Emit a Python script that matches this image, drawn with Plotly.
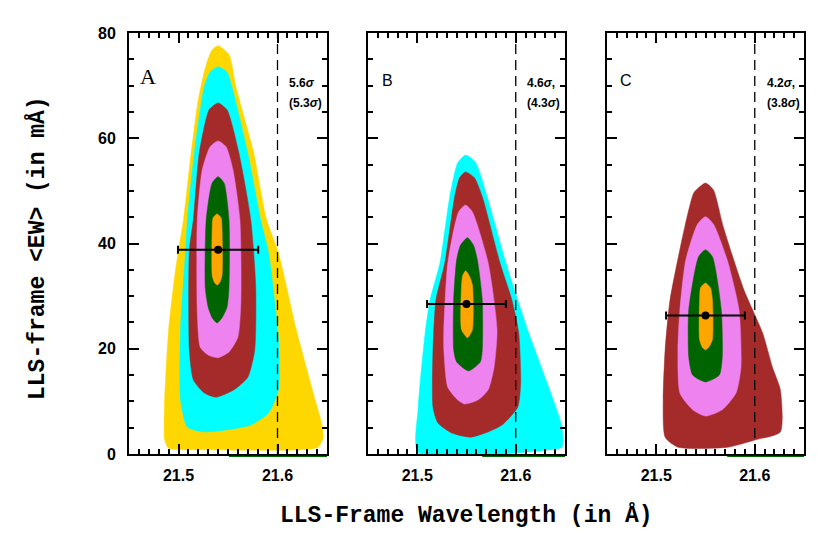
import plotly.graph_objects as go

# ---------------- data: contour regions (x = wavelength [Å], y = <EW> [mÅ]) ----------------
# Panel A
A_gold_x = [21.540, 21.551, 21.558, 21.567, 21.576, 21.589, 21.601, 21.619, 21.638, 21.645, 21.646, 21.641, 21.624,
            21.522, 21.490, 21.486, 21.486, 21.490, 21.497, 21.505, 21.512, 21.520, 21.528, 21.534]
A_gold_y = [77.6, 75.9, 69.8, 63.5, 57.2, 44.5, 38.2, 23.6, 10.3, 5.5, 3.0, 1.3, 0.8,
            0.8, 1.1, 2.7, 10.3, 23.6, 35.0, 44.5, 55.9, 67.3, 74.0, 76.8]
A_cyan_x = [21.540, 21.549, 21.554, 21.570, 21.583, 21.591, 21.597, 21.601, 21.601, 21.591, 21.573, 21.550,
            21.526, 21.509, 21.502, 21.502, 21.507, 21.509, 21.516, 21.526, 21.532]
A_cyan_y = [73.6, 72.6, 69.8, 57.2, 44.5, 38.2, 29.3, 21.7, 12.2, 7.8, 5.5, 4.6,
            4.2, 5.1, 10.3, 23.6, 38.2, 44.5, 57.2, 69.8, 72.6]
A_brown_x = [21.540, 21.549, 21.561, 21.573, 21.578, 21.577, 21.570, 21.556, 21.538, 21.526, 21.515, 21.511,
             21.511, 21.515, 21.521, 21.531]
A_brown_y = [66.7, 65.4, 57.2, 44.5, 31.7, 19.8, 14.6, 12.2, 10.8, 11.6, 14.1, 19.8,
             38.8, 44.5, 57.2, 65.4]
A_violet_x = [21.540, 21.548, 21.555, 21.562, 21.563, 21.560, 21.551, 21.540, 21.530, 21.522, 21.519, 21.519,
              21.524, 21.532]
A_violet_y = [59.5, 58.4, 54.0, 44.5, 28.7, 22.2, 19.4, 18.3, 18.8, 20.3, 26.8, 44.5, 54.0, 58.4]
A_green_x = [21.540, 21.546, 21.551, 21.551, 21.549, 21.544, 21.539, 21.534, 21.530, 21.527, 21.528, 21.534]
A_green_y = [52.7, 51.5, 44.5, 31.7, 27.9, 25.9, 24.9, 25.9, 27.9, 31.7, 44.5, 51.5]
A_orange_x = [21.539, 21.543, 21.544, 21.544, 21.542, 21.539, 21.536, 21.534, 21.534, 21.535]
A_orange_y = [45.6, 44.9, 42.6, 34.0, 32.7, 32.1, 32.7, 34.0, 42.6, 44.9]

# Panel B
B_cyan_x = [21.549, 21.559, 21.571, 21.590, 21.602, 21.612, 21.626, 21.647, 21.647, 21.639,
            21.501, 21.501, 21.508, 21.513, 21.523, 21.533, 21.541]
B_cyan_y = [56.8, 55.5, 48.9, 36.3, 29.3, 23.6, 16.5, 5.1, 1.3, 0.9,
            0.3, 8.9, 23.0, 29.3, 36.3, 48.9, 55.3]
B_brown_x = [21.549, 21.558, 21.566, 21.584, 21.596, 21.603, 21.605, 21.602, 21.586, 21.572, 21.554, 21.535,
             21.521, 21.516, 21.516, 21.519, 21.528, 21.538, 21.543]
B_brown_y = [53.6, 52.5, 48.9, 36.3, 29.3, 23.0, 13.5, 8.9, 5.5, 4.2, 3.2, 4.0,
             5.9, 8.9, 19.8, 29.3, 36.3, 48.9, 52.5]
B_violet_x = [21.549, 21.556, 21.572, 21.581, 21.578, 21.572, 21.562, 21.548, 21.541, 21.531, 21.527, 21.527,
              21.531, 21.542]
B_violet_y = [47.3, 46.0, 36.3, 23.6, 16.5, 12.2, 10.3, 9.5, 10.3, 12.7, 19.8, 23.6, 36.3, 46.0]
B_green_x = [21.551, 21.557, 21.561, 21.566, 21.566, 21.564, 21.552, 21.540, 21.537, 21.537, 21.540, 21.544]
B_green_y = [41.1, 39.7, 36.9, 29.3, 19.8, 17.5, 15.8, 17.5, 19.8, 29.3, 36.9, 39.7]
B_orange_x = [21.549, 21.553, 21.556, 21.556, 21.551, 21.545, 21.545, 21.546]
B_orange_y = [34.8, 33.8, 32.1, 23.6, 22.1, 23.6, 32.1, 33.8]

# Panel C
C_brown_x = [21.550, 21.558, 21.568, 21.589, 21.608, 21.618, 21.626, 21.626, 21.601, 21.573, 21.522, 21.509,
             21.507, 21.509, 21.514, 21.529, 21.538, 21.543]
C_brown_y = [51.5, 50.2, 43.2, 31.2, 23.0, 16.5, 12.2, 4.2, 2.7, 1.3, 1.3, 3.2,
             10.3, 19.8, 29.3, 43.2, 49.6, 50.6]
C_violet_x = [21.550, 21.558, 21.572, 21.584, 21.586, 21.581, 21.567, 21.550, 21.537, 21.524, 21.522, 21.524,
              21.530, 21.542]
C_violet_y = [45.1, 43.7, 36.9, 27.4, 16.5, 11.6, 8.4, 7.2, 8.4, 11.6, 19.8, 27.4, 36.9, 43.7]
C_green_x = [21.550, 21.557, 21.566, 21.567, 21.564, 21.550, 21.537, 21.533, 21.533, 21.543]
C_green_y = [38.8, 37.5, 27.4, 18.4, 15.0, 13.7, 15.0, 18.4, 27.4, 37.5]
C_orange_x = [21.550, 21.555, 21.557, 21.557, 21.553, 21.550, 21.547, 21.544, 21.544, 21.545]
C_orange_y = [32.5, 31.6, 29.3, 21.7, 20.2, 19.8, 20.2, 21.7, 29.3, 31.6]

# best-fit points with wavelength error bars
est_x = [21.540, 21.550, 21.550]
est_y = [38.8, 28.5, 26.3]
est_err = [0.0405, 0.040, 0.040]

# start of the thin dark-green segment under the bottom axis (to the right edge)
base_seg_start = [21.551, 21.566, 21.572]

panel_labels = ["A", "B", "C"]
sig_line1 = ["5.6<i>σ</i>", "4.6<i>σ</i>,", "4.2<i>σ</i>,"]
sig_line2 = ["(5.3<i>σ</i>)", "(4.3<i>σ</i>)", "(3.8<i>σ</i>)"]
threshold_wave = 21.6
x_range = [21.45, 21.65]

COL = {"gold": "#FFD700", "cyan": "#00FFFF", "brown": "#A52A2A",
       "violet": "#EE82EE", "green": "#006400", "orange": "#FFA500"}

panels = [
    [("gold", A_gold_x, A_gold_y), ("cyan", A_cyan_x, A_cyan_y), ("brown", A_brown_x, A_brown_y),
     ("violet", A_violet_x, A_violet_y), ("green", A_green_x, A_green_y), ("orange", A_orange_x, A_orange_y)],
    [("cyan", B_cyan_x, B_cyan_y), ("brown", B_brown_x, B_brown_y), ("violet", B_violet_x, B_violet_y),
     ("green", B_green_x, B_green_y), ("orange", B_orange_x, B_orange_y)],
    [("brown", C_brown_x, C_brown_y), ("violet", C_violet_x, C_violet_y),
     ("green", C_green_x, C_green_y), ("orange", C_orange_x, C_orange_y)],
]

W, H = 831, 545
OFF = 8  # page body margin in the browser
def px(x):
    return (x - OFF) / W
def py(y):
    return 1 - (y - OFF) / H

x_dom_px = [(129, 327), (368, 565), (607, 804)]
y_top_px, y_bot_px = 33, 454

fig = go.Figure()
for i, regions in enumerate(panels):
    xa = "x" if i == 0 else f"x{i+1}"
    ya = "y" if i == 0 else f"y{i+1}"
    for cname, xs, ys in regions:
        fig.add_trace(go.Scatter(x=xs + [xs[0]], y=ys + [ys[0]], mode="lines", fill="toself",
                                 fillcolor=COL[cname],
                                 line=dict(color=COL[cname], width=0.5, shape="spline", smoothing=0.6),
                                 xaxis=xa, yaxis=ya, hoverinfo="skip", showlegend=False))
    fig.add_trace(go.Scatter(x=[est_x[i]], y=[est_y[i]], mode="markers",
                             marker=dict(symbol="circle", size=8, color="black"),
                             error_x=dict(type="data", array=[est_err[i]], color="black", thickness=2, width=4),
                             xaxis=xa, yaxis=ya, showlegend=False, hoverinfo="skip"))
    fig.add_shape(type="line", xref=xa, yref=f"{ya} domain", x0=threshold_wave, x1=threshold_wave, y0=0, y1=1,
                  line=dict(color="black", width=1.3, dash="10px,6px"))
    fig.add_shape(type="line", xref=xa, yref=f"{ya} domain", x0=base_seg_start[i], x1=x_range[1],
                  y0=-0.0055, y1=-0.0055, line=dict(color="#006400", width=1.2))

tickfont = dict(family="Liberation Sans, Arial", size=16, color="black", weight="bold")
common_x = dict(range=x_range, tickmode="linear", tick0=21.5, dtick=0.1, tickformat=".1f",
                ticks="inside", ticklen=10, tickwidth=2, tickcolor="black",
                minor=dict(ticks="inside", ticklen=5, tickwidth=1.5, tickcolor="black", dtick=0.01, tick0=21.5),
                showline=True, linewidth=2, linecolor="black", mirror="allticks", showgrid=False, zeroline=False,
                tickfont=tickfont, ticklabelstandoff=6, automargin=False)
common_y = dict(range=[0, 80], tickmode="linear", tick0=0, dtick=20,
                ticks="inside", ticklen=10, tickwidth=2, tickcolor="black",
                minor=dict(ticks="inside", ticklen=5, tickwidth=1.5, tickcolor="black", dtick=5, tick0=0),
                showline=True, linewidth=2, linecolor="black", mirror="allticks", showgrid=False, zeroline=False,
                tickfont=tickfont, domain=[py(y_bot_px), py(y_top_px)], automargin=False)

layout = dict(width=W, height=H, margin=dict(l=0, r=0, t=0, b=0, autoexpand=False),
              paper_bgcolor="white", plot_bgcolor="white", showlegend=False)
for i in range(3):
    kx = "xaxis" if i == 0 else f"xaxis{i+1}"
    ky = "yaxis" if i == 0 else f"yaxis{i+1}"
    ya = "y" if i == 0 else f"y{i+1}"
    xa = "x" if i == 0 else f"x{i+1}"
    layout[kx] = dict(common_x, domain=[px(x_dom_px[i][0]), px(x_dom_px[i][1])], anchor=ya)
    yd = dict(common_y, anchor=xa, ticklabelstandoff=8)
    if i > 0:
        yd["showticklabels"] = False
    layout[ky] = yd
fig.update_layout(**layout)

# axis titles
fig.add_annotation(text="LLS-Frame Wavelength (in Å)", xref="paper", yref="paper", x=px(466), y=py(515),
                   showarrow=False, xanchor="center", yanchor="middle",
                   font=dict(family="Liberation Mono, Courier New", size=23, color="black", weight="bold"))
fig.add_annotation(text="LLS-frame <EW> (in mÅ)", xref="paper", yref="paper", x=px(37), y=py(248),
                   showarrow=False, xanchor="center", yanchor="middle", textangle=-90,
                   font=dict(family="Liberation Mono, Courier New", size=23, color="black", weight="bold"))

# panel labels and significance texts
label_pos = [(138, 77), (380, 81), (618, 81)]
label_fonts = [dict(family="Liberation Serif, Times New Roman", size=22, color="black"),
               dict(family="Liberation Sans, Arial", size=16, color="black"),
               dict(family="Liberation Sans, Arial", size=16, color="black")]
sig_x = [287, 525, 765]
for i in range(3):
    fig.add_annotation(text=panel_labels[i], xref="paper", yref="paper", x=px(label_pos[i][0]),
                       y=py(label_pos[i][1]), showarrow=False, xanchor="left", yanchor="middle",
                       font=label_fonts[i])
    fig.add_annotation(text=sig_line1[i], xref="paper", yref="paper", x=px(sig_x[i]), y=py(83),
                       showarrow=False, xanchor="left", yanchor="middle",
                       font=dict(family="Liberation Sans, Arial", size=12, color="black", weight="bold"))
    fig.add_annotation(text=sig_line2[i], xref="paper", yref="paper", x=px(sig_x[i]), y=py(103),
                       showarrow=False, xanchor="left", yanchor="middle",
                       font=dict(family="Liberation Sans, Arial", size=12, color="black", weight="bold"))

fig.write_html("out.html")
